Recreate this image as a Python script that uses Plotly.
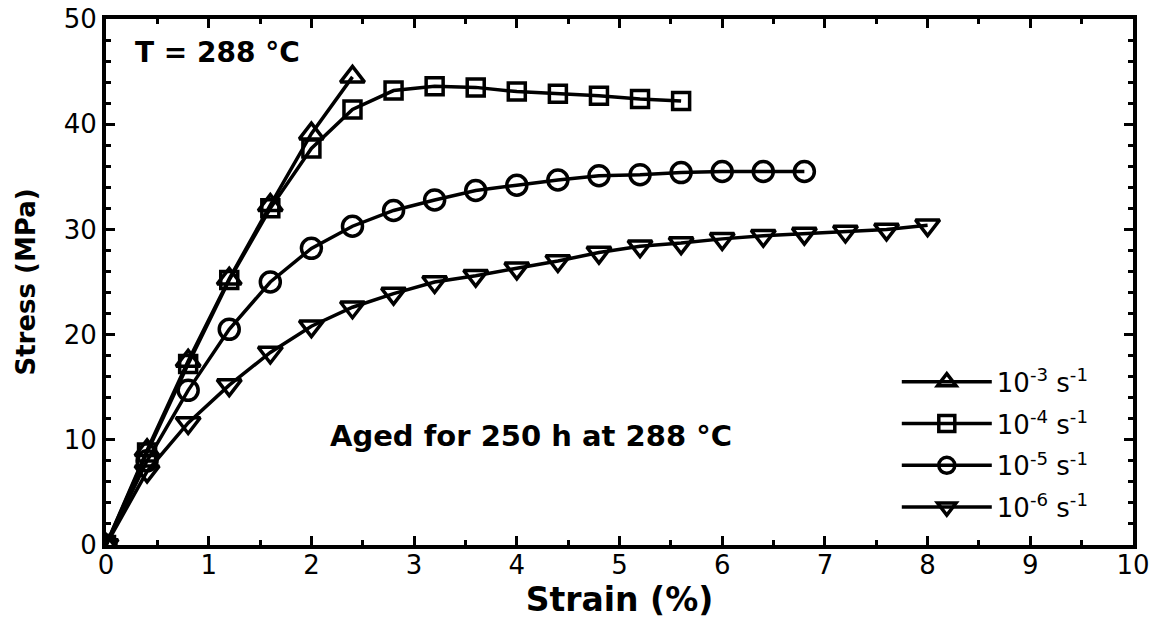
import plotly.graph_objects as go

strain = [0.0, 0.4, 0.8, 1.2, 1.6, 2.0, 2.4, 2.8, 3.2, 3.6, 4.0, 4.4, 4.8, 5.2,
          5.6, 6.0, 6.4, 6.8, 7.2, 7.6, 8.0]

stress_1e3 = [0.0, 9.0, 17.5, 25.3, 32.3, 39.1, 44.5]
stress_1e4 = [0.0, 8.8, 17.2, 25.2, 32.0, 37.7, 41.4, 43.2, 43.6, 43.5, 43.1,
              42.9, 42.7, 42.4, 42.2]
stress_1e5 = [0.0, 8.0, 14.7, 20.5, 25.0, 28.2, 30.3, 31.8, 32.8, 33.7, 34.2,
              34.7, 35.1, 35.2, 35.4, 35.5, 35.5, 35.5]
stress_1e6 = [0.0, 7.0, 11.6, 15.2, 18.3, 20.8, 22.6, 23.9, 25.0, 25.6, 26.3,
              27.0, 27.8, 28.4, 28.7, 29.1, 29.4, 29.6, 29.8, 30.0, 30.4]

series_names = ["10<sup>-3</sup> s<sup>-1</sup>", "10<sup>-4</sup> s<sup>-1</sup>",
                "10<sup>-5</sup> s<sup>-1</sup>", "10<sup>-6</sup> s<sup>-1</sup>"]
series_values = [stress_1e3, stress_1e4, stress_1e5, stress_1e6]
symbols = ["triangle-up-open", "square-open", "circle-open", "triangle-down-open"]
sizes = [21, 17, 20, 21]

FONT = "DejaVu Sans, sans-serif"

fig = go.Figure()
for i, (name, vals, sym, sz) in enumerate(zip(series_names, series_values, symbols, sizes)):
    fig.add_trace(go.Scatter(
        x=strain[:len(vals)], y=vals, name=name, mode="lines+markers",
        legendgroup=f"g{i}",
        line=dict(color="black", width=3.5),
        marker=dict(symbol=sym, size=sz, color="black",
                    line=dict(color="black", width=3.5)),
    ))

axis_common = dict(
    showline=True, linecolor="black", linewidth=4, mirror="ticks",
    ticks="inside", ticklen=9, tickwidth=3, tickcolor="black",
    showgrid=False, zeroline=False, automargin=False,
    ticklabeloverflow="allow",
    tickfont=dict(family=FONT, size=26, color="black"),
)

fig.update_xaxes(
    range=[0, 10], dtick=1, tick0=0, ticklabelstandoff=-6,
    minor=dict(ticks="inside", dtick=0.5, ticklen=5, tickwidth=3, tickcolor="black"),
    title=dict(text="<b>Strain (%)</b>", font=dict(family=FONT, size=33, color="black"), standoff=4),
    **axis_common,
)
fig.update_yaxes(
    range=[0, 50], dtick=10, tick0=0,
    minor=dict(ticks="inside", dtick=2, ticklen=5, tickwidth=3, tickcolor="black"),
    title=dict(text="<b>Stress (MPa)</b>", font=dict(family=FONT, size=26, color="black"), standoff=22),
    **axis_common,
)

fig.add_annotation(x=0.026, y=0.937, xref="paper", yref="paper", xanchor="left", yanchor="middle",
                   text="<b>T = 288 °C</b>", showarrow=False,
                   font=dict(family=FONT, size=28, color="black"))
fig.add_annotation(x=2.16, y=10.4, xref="x", yref="y", xanchor="left", yanchor="middle",
                   text="<b>Aged for 250 h at 288 °C</b>", showarrow=False,
                   font=dict(family=FONT, size=29, color="black"))

fig.update_layout(
    width=1162, height=620,
    margin=dict(l=106, r=29, t=19, b=75),
    plot_bgcolor="white", paper_bgcolor="white",
    showlegend=True,
    legend=dict(x=0.770, y=0.355, xanchor="left", yanchor="top",
                bgcolor="rgba(0,0,0,0)", borderwidth=0,
                font=dict(family=FONT, size=26, color="black"),
                itemwidth=90, tracegroupgap=5),
)

fig.write_html("out.html", config={"displayModeBar": False},
               post_script="document.body.style.margin='0';document.body.style.overflow='hidden';")
